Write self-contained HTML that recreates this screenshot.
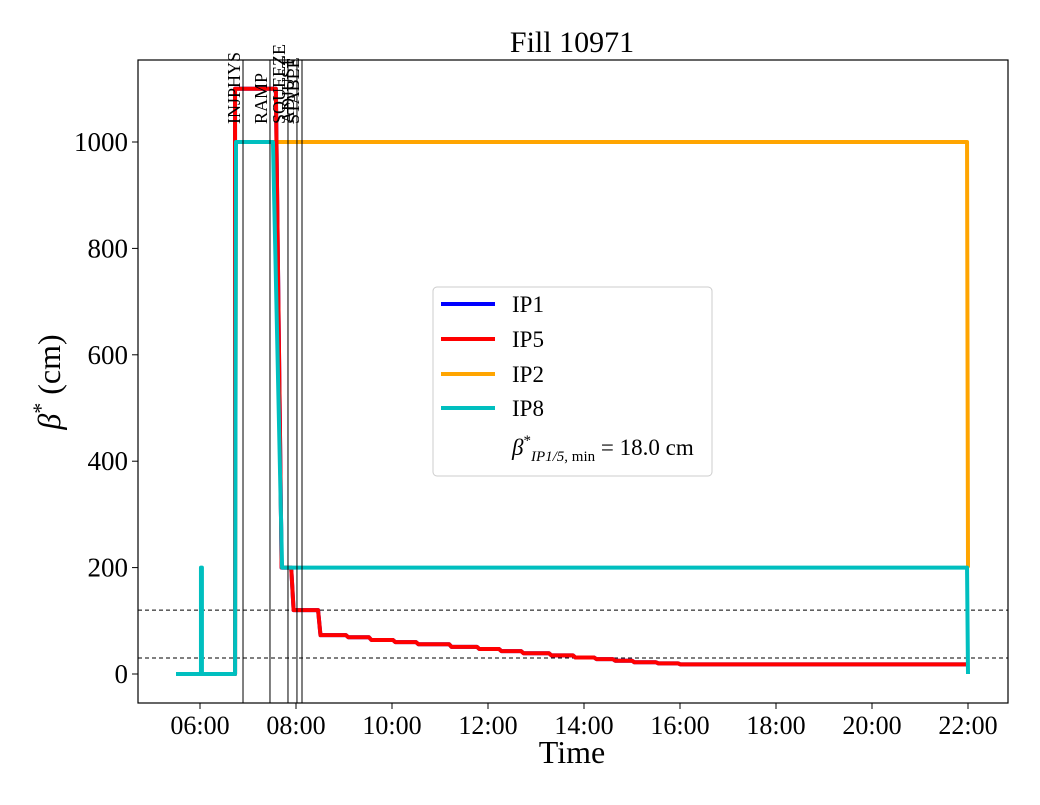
<!DOCTYPE html>
<html><head><meta charset="utf-8"><style>
body{margin:0;background:#fff;}
svg text{font-family:"Liberation Serif",serif;fill:#000;}
</style></head><body>
<svg id="chart" width="1040" height="800" xmlns="http://www.w3.org/2000/svg">
<rect width="1040" height="800" fill="#fff"/>
<text x="572" y="52" font-size="30" text-anchor="middle">Fill 10971</text>
<g id="plot"></g>
<rect x="138" y="60" width="870" height="643" fill="none" stroke="#000" stroke-width="1.2"/>
<g id="ticks"></g>
<text x="572" y="763" font-size="32" text-anchor="middle">Time</text>
<text transform="translate(60,382) rotate(-90)" font-size="32" text-anchor="middle"><tspan font-style="italic">β</tspan><tspan dy="-12" font-size="22">*</tspan><tspan dy="12"> (cm)</tspan></text>
<g>
<rect x="433" y="287" width="279" height="189" rx="4" fill="#fff" stroke="#ccc"/>
<line x1="441" y1="304" x2="495" y2="304" stroke="#0000ff" stroke-width="4"/>
<text x="512" y="312" font-size="23">IP1</text>
<line x1="441" y1="339" x2="495" y2="339" stroke="#ff0000" stroke-width="4"/>
<text x="512" y="347" font-size="23">IP5</text>
<line x1="441" y1="374" x2="495" y2="374" stroke="#ffa500" stroke-width="4"/>
<text x="512" y="382" font-size="23">IP2</text>
<line x1="441" y1="408" x2="495" y2="408" stroke="#00bfbf" stroke-width="4"/>
<text x="512" y="416" font-size="23">IP8</text>
<text x="512" y="455" font-size="23"><tspan font-style="italic">β</tspan><tspan dy="-10" font-size="15">*</tspan><tspan dy="16" font-size="15" font-style="italic">IP1/5</tspan><tspan font-size="15">, min</tspan><tspan dy="-6"> = 18.0 cm</tspan></text>
</g>
</svg>
<script>
const xTickLabels=["06:00","08:00","10:00","12:00","14:00","16:00","18:00","20:00","22:00"];
const xTickHours=[6,8,10,12,14,16,18,20,22];
const yTicks=[0,200,400,600,800,1000];
const phaseNames=["INJPHYS","RAMP","SQUEEZE","ADJUST","STABLE"];
const phaseHours=[6.896,7.458,7.833,8.02,8.125];
const refLines=[120,30];
const ip8T=[5.5,6.02,6.02,6.04,6.04,6.73,6.75,7.52,7.71,21.98,22.0];
const ip8V=[0,0,200,200,0,0,1000,1000,200,200,0];
const ip2T=[5.5,6.73,6.75,21.98,22.0];
const ip2V=[0,0,1000,1000,200];
// IP5 step function: value holds from each time until the next
const ip5T=[5.5,6.73,7.58,7.81,7.90,8.46,9.04,9.52,10.02,10.5,11.19,11.77,12.23,12.69,13.27,13.77,14.21,14.6,15.0,15.5,15.96,22.0];
const ip5V=[0,1100,200,200,120,73,69,64,60,56,51,47,43,39,35,31,28,25,22,20,18,18];
const NS="http://www.w3.org/2000/svg";
const xs=h=>200+(h-6)*48;
const ys=v=>674-v*0.532;
const plot=document.getElementById('plot'),ticks=document.getElementById('ticks');
function mk(tag,attrs,parent){const e=document.createElementNS(NS,tag);for(const k in attrs)e.setAttribute(k,attrs[k]);parent.appendChild(e);return e;}
refLines.forEach((v,i)=>{const l=mk('line',{x1:138,x2:1008,y1:ys(v),y2:ys(v),stroke:'#000','stroke-width':1,'stroke-dasharray':'4,3'},plot);

});
function linePath(T,V,color,w,name){let d='';T.forEach((t,i)=>{d+=(i?'L':'M')+xs(t)+','+ys(V[i]);});
const p=mk('path',{d:d,fill:'none',stroke:color,'stroke-width':w,'stroke-linejoin':'round'},plot);

}
function stepPath(T,V,color,w,name){let d='M'+xs(T[0])+','+ys(V[0]);
for(let i=1;i<T.length;i++){const slant=(V[i-1]-V[i])>500?0.12:0.05;d+='L'+xs(T[i])+','+ys(V[i-1])+'L'+(xs(T[i])+slant*48*(V[i]<V[i-1]?1:0))+','+ys(V[i]);}
const p=mk('path',{d:d,fill:'none',stroke:color,'stroke-width':w,'stroke-linejoin':'round'},plot);

}
linePath(ip2T,ip2V,'#ffa500',4,'series-ip2');
stepPath(ip5T,ip5V,'#0000ff',4,'series-ip1');
stepPath(ip5T,ip5V,'#ff0000',4,'series-ip5');
linePath(ip8T,ip8V,'#00bfbf',4,'series-ip8');
phaseHours.forEach((h,i)=>{const l=mk('line',{x1:xs(h),x2:xs(h),y1:60,y2:703,stroke:'#000','stroke-width':1},plot);


const t=mk('text',{transform:`translate(${xs(h)-3},124) rotate(-90)`,'font-size':18},plot);
t.textContent=phaseNames[i];

});
xTickHours.forEach((h,i)=>{mk('line',{x1:xs(h),x2:xs(h),y1:703,y2:709,stroke:'#000'},ticks);
const t=mk('text',{x:xs(h),y:734,'font-size':26,'text-anchor':'middle'},ticks);t.textContent=xTickLabels[i];

});
yTicks.forEach(v=>{mk('line',{x1:132,x2:138,y1:ys(v),y2:ys(v),stroke:'#000'},ticks);
const t=mk('text',{x:128,y:ys(v)+9,'font-size':27,'text-anchor':'end'},ticks);t.textContent=v;

});
</script>
</body></html>
